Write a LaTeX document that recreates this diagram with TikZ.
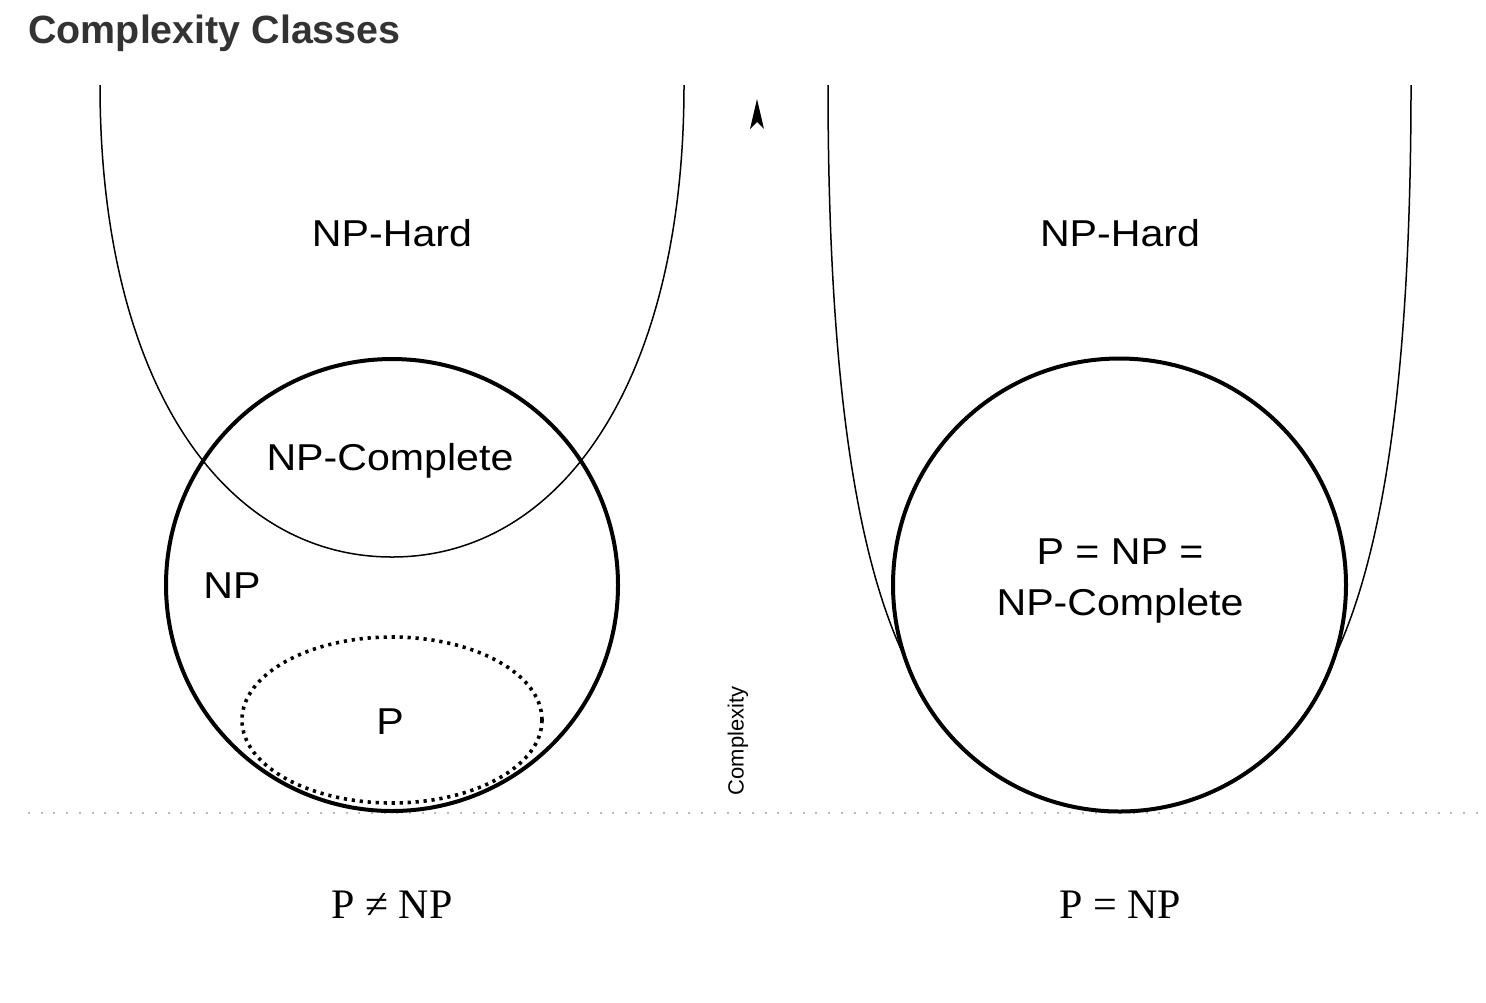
\documentclass[tikz,border=0pt]{standalone}
\usepackage{fontspec}
\setmainfont{Liberation Serif}
\setsansfont{Liberation Sans}
\definecolor{titlegray}{HTML}{333333}
\definecolor{dotgray}{HTML}{BBBBBB}
\begin{document}
\begin{tikzpicture}[x=0.5pt,y=-0.5pt,
  hardcurve/.style={line width=0.75pt},
  classcircle/.style={line width=2pt},
  pset/.style={line width=1.8pt, dash pattern=on 1.6pt off 2.4pt},
  baseline dots/.style={dotgray, line width=1pt, dash pattern=on 1pt off 5.35pt},
  lbl/.style={font=\sffamily\fontsize{18.7}{22}\selectfont, xscale=1.1, inner sep=0pt},
  eqlbl/.style={font=\rmfamily\fontsize{21}{25}\selectfont, inner sep=0pt},
  titlelbl/.style={font=\sffamily\bfseries\fontsize{19.7}{23}\selectfont, text=titlegray, inner sep=0pt},
  axislbl/.style={font=\sffamily\fontsize{11}{13}\selectfont, rotate=90, inner sep=0pt}]
\useasboundingbox (0,0) rectangle (1486,1002);

% title
\node[titlelbl, anchor=base west] (title) at (28,43) {Complexity Classes};

% baseline
\coordinate (bl0) at (28,813);
\coordinate (bl1) at (1486,813);
\draw[baseline dots] (bl0) -- (bl1);

% ---------- left: P != NP ----------
\coordinate (npc) at (392,585);
\begin{scope}
  \clip (npc) circle [radius=226];
  \draw[pset] (392,720) ellipse [x radius=150, y radius=83];
\end{scope}
\draw[classcircle] (npc) circle [radius=226];
\draw[hardcurve] (100,85) .. controls (100,380) and (222,557) .. (392,557)
                 .. controls (562,557) and (684,380) .. (684,85);

\node[lbl] (hardL) at (392,233) {NP-Hard};
\node[lbl] (npcL) at (390,461) {NP-Complete};
\node[lbl] (npL) at (232,586) {NP};
\node[lbl] (pL) at (390,722) {P};
\node[eqlbl] (neq) at (392,905) {P ≠ NP};

% ---------- axis ----------
\fill (757,99) -- (764,129) -- (757,122) -- (750,129) -- cycle;
\node[axislbl] (axis) at (738,741) {Complexity};

% ---------- right: P = NP ----------
\draw[hardcurve] (828,85) .. controls (828,720) and (960,790) .. (1119.5,790)
                 .. controls (1279,790) and (1411,720) .. (1411,85);
\draw[classcircle, fill=white] (1119.5,585) circle [radius=226.5];
\node[lbl, align=center, font=\sffamily\fontsize{18.7}{25.5}\selectfont] (allR) at (1120,581) {P = NP =\\NP-Complete};
\node[lbl] (hardR) at (1120,233) {NP-Hard};
\node[eqlbl] (eq) at (1120,905) {P = NP};
\end{tikzpicture}
\end{document}
